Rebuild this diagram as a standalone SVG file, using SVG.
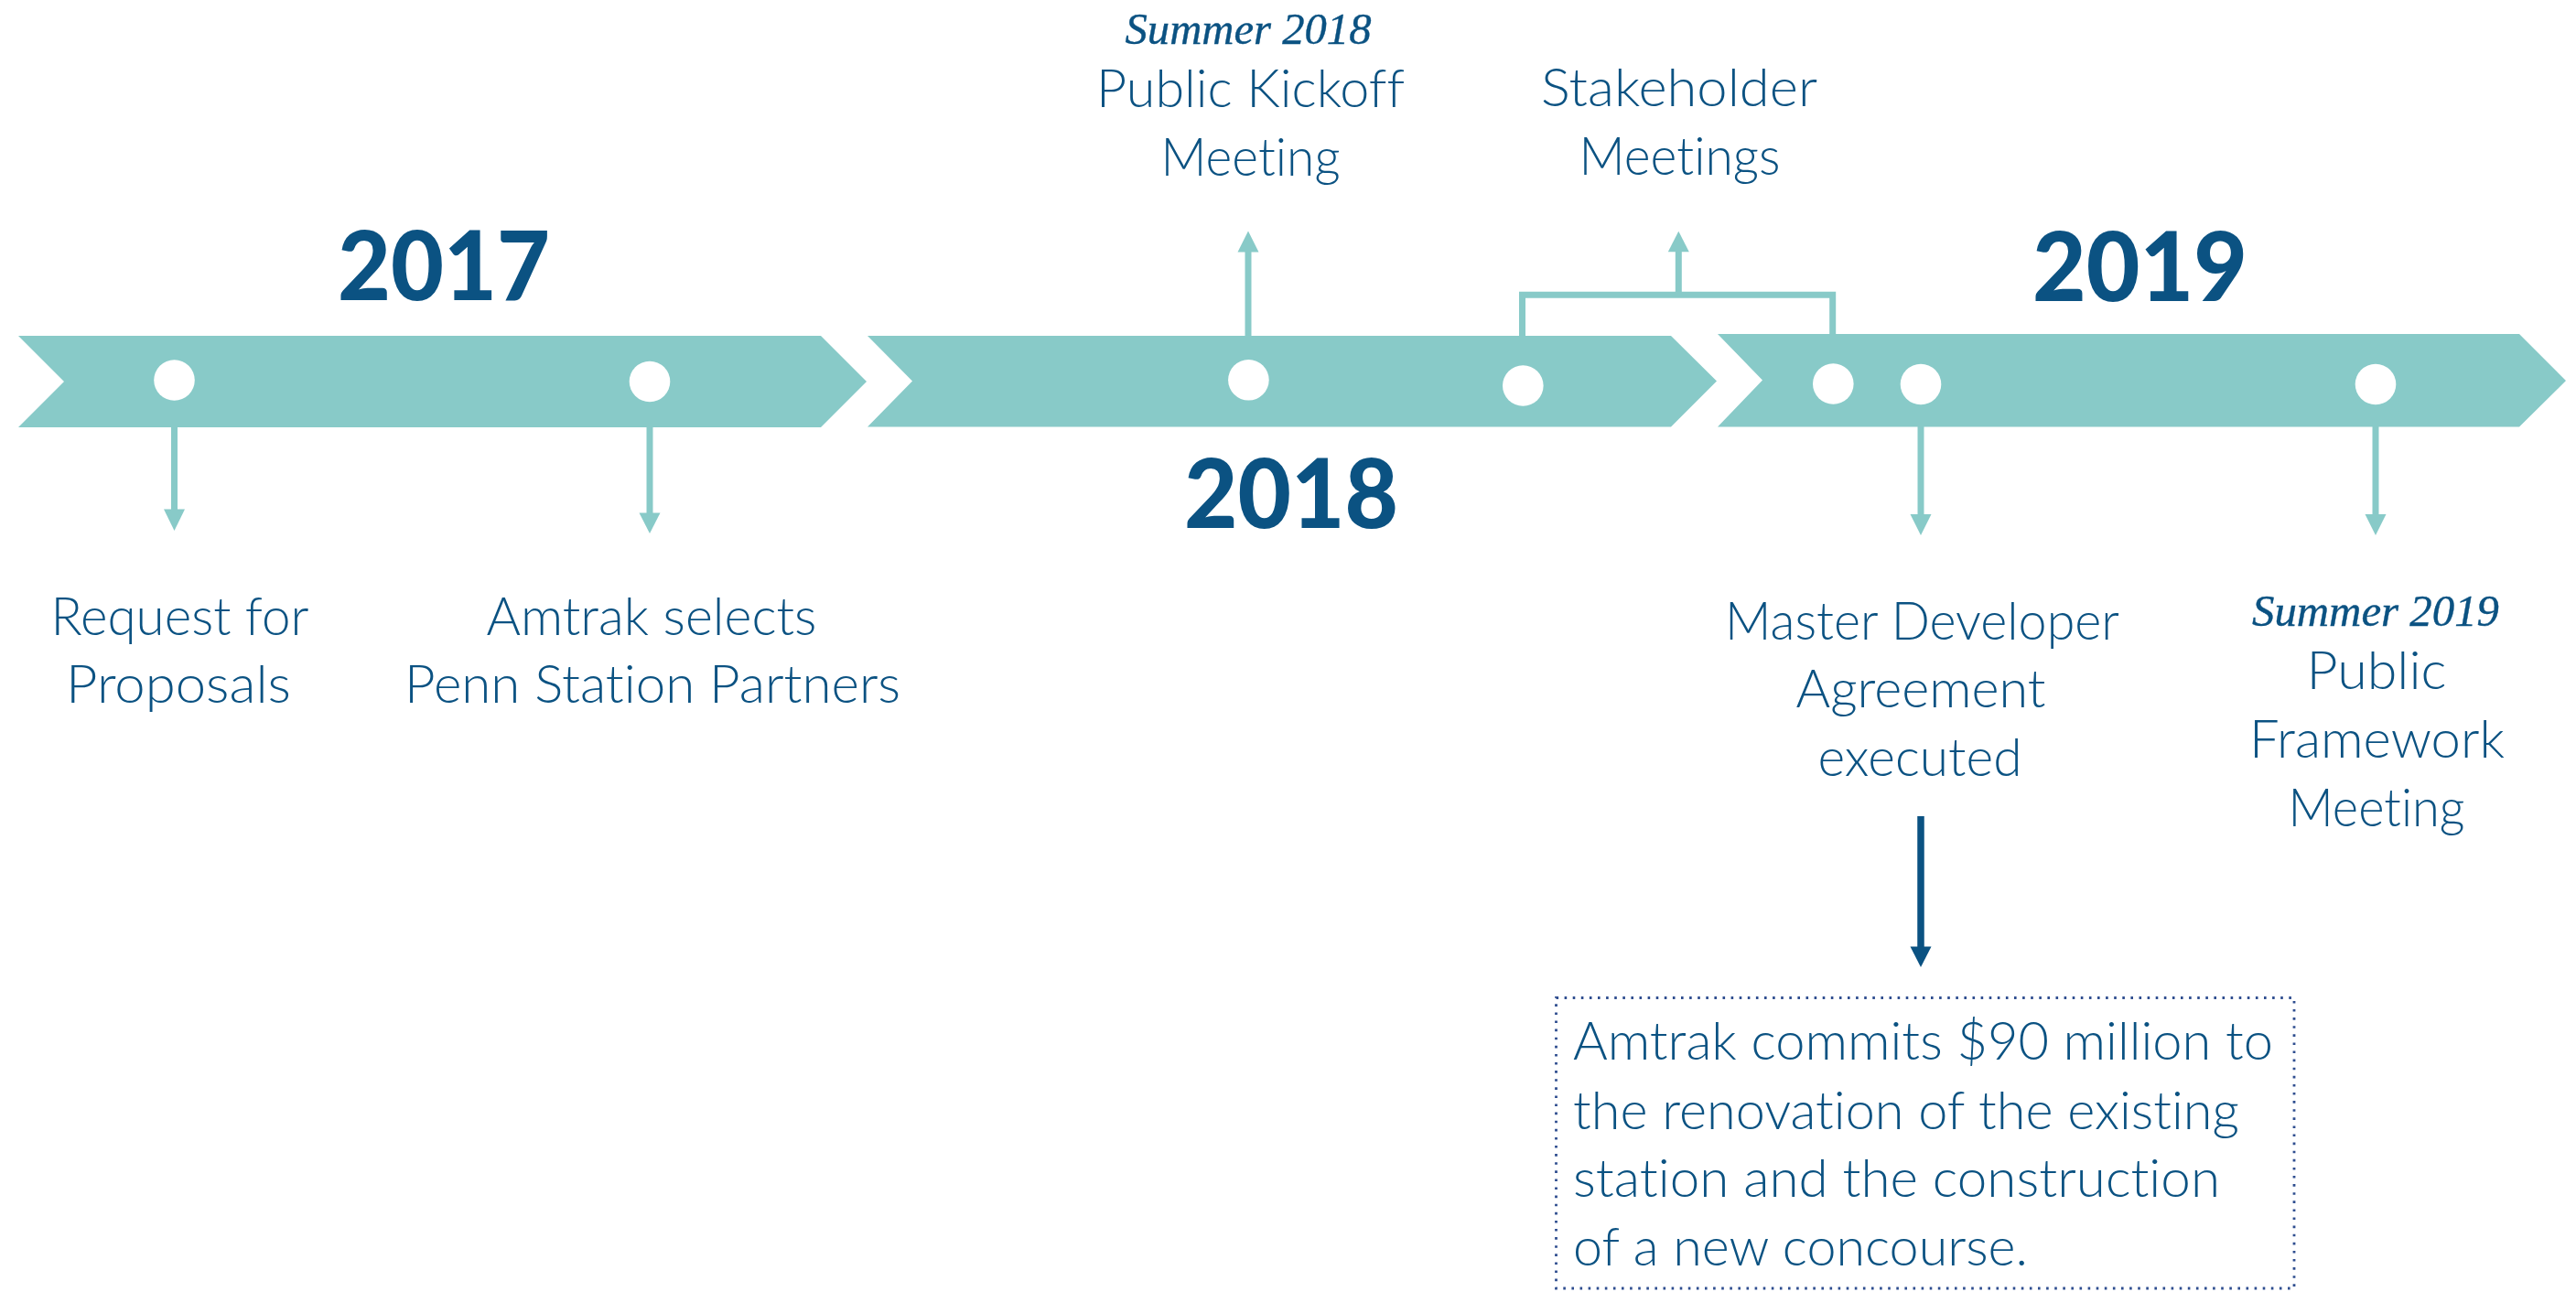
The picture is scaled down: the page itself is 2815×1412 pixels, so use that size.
<svg xmlns="http://www.w3.org/2000/svg" width="2815" height="1412" viewBox="0 0 2815 1412">
  <style>
    text { font-variant-ligatures: none; font-feature-settings: "liga" 0, "clig" 0; }
    .band { fill: #88CAC8; }
    .dot { fill: #FFFFFF; }
    .link { fill: none; stroke: #88CAC8; stroke-width: 7; }
    .head { fill: #88CAC8; }
    .year { font-family: Lato, "Liberation Sans", sans-serif; font-weight: 900; font-size: 104px; fill: #0B5282; text-anchor: middle; }
    .label { font-family: Lato, "Open Sans", sans-serif; font-weight: 300; font-size: 57px; fill: #0B5282; text-anchor: middle; }
    .when { font-family: "Liberation Serif", "DejaVu Serif", serif; font-style: italic; font-size: 48px; fill: #0B5282; stroke: #0B5282; stroke-width: 0.4; text-anchor: middle; }
    .note { font-family: Lato, "Open Sans", sans-serif; font-weight: 300; font-size: 57px; fill: #0B5282; }
    .frame { fill: none; stroke: #2E4D8F; stroke-width: 2.8; stroke-dasharray: 2.6 6.5; }
  </style>

  <!-- timeline bands -->
  <g id="band-2017">
    <polygon class="band" points="20,367 897,367 947,417 897,467 20,467 70,417"/>
    <text class="year" x="485" y="328" textLength="232" lengthAdjust="spacingAndGlyphs">2017</text>
  </g>
  <g id="band-2018">
    <polygon class="band" points="948,367 1826,367 1876,416.5 1826,466.5 948,466.5 997,416.5"/>
    <text class="year" x="1411" y="577" textLength="234" lengthAdjust="spacingAndGlyphs">2018</text>
  </g>
  <g id="band-2019">
    <polygon class="band" points="1877,365 2753,365 2804,416 2753,466.5 1877,466.5 1926,415.5"/>
    <text class="year" x="2338.6" y="328.6" textLength="235" lengthAdjust="spacingAndGlyphs">2019</text>
  </g>

  <!-- connectors -->
  <g id="connectors">
    <line class="link" x1="190.5" y1="466" x2="190.5" y2="558"/>
    <polygon class="head" points="179,556.5 202,556.5 190.5,580"/>

    <line class="link" x1="710" y1="466" x2="710" y2="562"/>
    <polygon class="head" points="698.5,560.5 721.5,560.5 710,583"/>

    <line class="link" x1="1364" y1="368" x2="1364" y2="274"/>
    <polygon class="head" points="1352.5,275.5 1375.5,275.5 1364,252.5"/>

    <path class="link" d="M1663.5,368 V322.3 H2002.7 V366"/>
    <line class="link" x1="1834.3" y1="322" x2="1834.3" y2="274"/>
    <polygon class="head" points="1822.8,275.3 1845.8,275.3 1834.3,252.7"/>

    <line class="link" x1="2099" y1="466" x2="2099" y2="564"/>
    <polygon class="head" points="2087.5,562 2110.5,562 2099,585"/>

    <line class="link" x1="2596" y1="466" x2="2596" y2="564"/>
    <polygon class="head" points="2584.5,562 2607.5,562 2596,585"/>

    <line x1="2099" y1="892" x2="2099" y2="1037" stroke="#0B5282" stroke-width="7.5"/>
    <polygon fill="#0B5282" points="2087.5,1034.5 2110.5,1034.5 2099,1057"/>
  </g>

  <!-- milestones -->
  <g id="request-for-proposals">
    <circle class="dot" cx="190.5" cy="415.5" r="22.3"/>
    <text class="label" x="196.5" y="694" textLength="282" lengthAdjust="spacingAndGlyphs">Request for</text>
    <text class="label" x="195" y="768" textLength="246" lengthAdjust="spacingAndGlyphs">Proposals</text>
  </g>
  <g id="partners-selected">
    <circle class="dot" cx="710" cy="417" r="22.3"/>
    <text class="label" x="712" y="694" textLength="361" lengthAdjust="spacingAndGlyphs">Amtrak selects</text>
    <text class="label" x="713" y="768" textLength="542" lengthAdjust="spacingAndGlyphs">Penn Station Partners</text>
  </g>
  <g id="kickoff-meeting">
    <circle class="dot" cx="1364.4" cy="415.3" r="22.3"/>
    <text class="when" x="1364" y="48" textLength="269" lengthAdjust="spacingAndGlyphs">Summer 2018</text>
    <text class="label" x="1366.5" y="117" textLength="337" lengthAdjust="spacingAndGlyphs">Public Kickoff</text>
    <text class="label" x="1366.5" y="191.8" textLength="196" lengthAdjust="spacingAndGlyphs">Meeting</text>
  </g>
  <g id="stakeholder-meetings">
    <circle class="dot" cx="1664.3" cy="421.5" r="22.3"/>
    <circle class="dot" cx="2003.3" cy="419.5" r="22.3"/>
    <text class="label" x="1835" y="115.8" textLength="302" lengthAdjust="spacingAndGlyphs">Stakeholder</text>
    <text class="label" x="1835.5" y="190.6" textLength="220" lengthAdjust="spacingAndGlyphs">Meetings</text>
  </g>
  <g id="master-developer-agreement">
    <circle class="dot" cx="2099" cy="420" r="22.3"/>
    <text class="label" x="2100.5" y="699" textLength="431" lengthAdjust="spacingAndGlyphs">Master Developer</text>
    <text class="label" x="2099" y="773" textLength="273" lengthAdjust="spacingAndGlyphs">Agreement</text>
    <text class="label" x="2098" y="847.7" textLength="223" lengthAdjust="spacingAndGlyphs">executed</text>
  </g>
  <g id="framework-meeting">
    <circle class="dot" cx="2596" cy="420" r="22.3"/>
    <text class="when" x="2596" y="684" font-size="46" textLength="270" lengthAdjust="spacingAndGlyphs">Summer 2019</text>
    <text class="label" x="2597" y="753" textLength="153" lengthAdjust="spacingAndGlyphs">Public</text>
    <text class="label" x="2597.5" y="828" textLength="279" lengthAdjust="spacingAndGlyphs">Framework</text>
    <text class="label" x="2597" y="903" textLength="193" lengthAdjust="spacingAndGlyphs">Meeting</text>
  </g>
  <g id="funding-note">
    <rect class="frame" x="1700.5" y="1090.5" width="806.5" height="317.5"/>
    <text class="note" x="1719" y="1158" textLength="765" lengthAdjust="spacingAndGlyphs">Amtrak commits $90 million to</text>
    <text class="note" x="1719" y="1233.5" textLength="728" lengthAdjust="spacingAndGlyphs">the renovation of the existing</text>
    <text class="note" x="1719" y="1308" textLength="707" lengthAdjust="spacingAndGlyphs">station and the construction</text>
    <text class="note" x="1719" y="1382.5" textLength="497" lengthAdjust="spacingAndGlyphs">of a new concourse.</text>
  </g>
</svg>
